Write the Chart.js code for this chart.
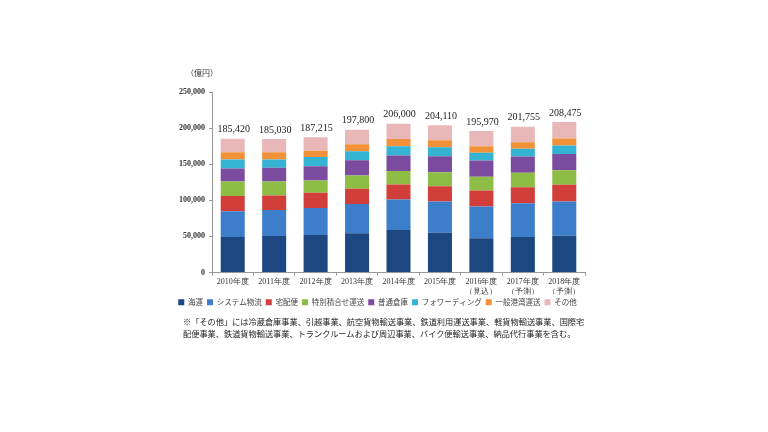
<!DOCTYPE html>
<html><head><meta charset="utf-8">
<script src="https://cdn.jsdelivr.net/npm/chart.js@4/dist/chart.umd.min.js"></script>
<style>
html,body{margin:0;padding:0;background:#fff;}
#wrap{position:relative;width:768px;height:432px;}
#unit{position:absolute;left:186px;top:67px;font:8px "Noto Sans CJK JP";color:#333;}
.note{position:absolute;left:183px;font:8.2px "Noto Sans CJK JP";color:#222;white-space:nowrap;}
</style></head>
<body><div id="wrap"><canvas id="c" width="768" height="432"></canvas>
<div id="unit">（億円）</div>
<div class="note" style="top:315px">※「その他」には冷蔵倉庫事業、引越事業、航空貨物輸送事業、鉄道利用運送事業、軽貨物輸送事業、国際宅</div>
<div class="note" style="top:327px">配便事業、鉄道貨物輸送事業、トランクルームおよび周辺事業、バイク便輸送事業、納品代行事業を含む。</div>
</div>
<script>
const categories = [['2010年度'],['2011年度'],['2012年度'],['2013年度'],['2014年度'],['2015年度'],['2016年度','（見込）'],['2017年度','（予測）'],['2018年度','（予測）']];
const totals = [185420,185030,187215,197800,206000,204110,195970,201755,208475];
const kaiun    = [49000,50500,52000,54500,59000,55000,47500,49000,51000];
const system   = [36000,36000,37500,40500,42000,43500,44000,47000,47500];
const takuhai  = [21000,20000,21000,21000,21000,21000,22000,22000,23000];
const tokuseki = [20000,19500,17000,18500,18500,19500,19000,20000,20000];
const souko    = [18000,19000,19500,21000,21500,22000,22500,22500,22500];
const forward  = [12500,11500,13000,12500,13000,12500,11000,11000,12000];
const kouwan   = [10000,10000, 8500, 9500,10000, 9500, 9000, 9000, 9500];
const sonota   = [18920,18530,18715,20300,21000,21110,20970,21255,22975];
const yTicks = [0,50000,100000,150000,200000,250000];

const series = [
 ['海運',kaiun,'#1d4781'],
 ['システム物流',system,'#3d7ecb'],
 ['宅配便',takuhai,'#d23f3b'],
 ['特別積合せ運送',tokuseki,'#8dbd45'],
 ['普通倉庫',souko,'#7a4b9f'],
 ['フォワーディング',forward,'#35b3d2'],
 ['一般港湾運送',kouwan,'#f1923a'],
 ['その他',sonota,'#e9b7b7']
];
const totalLabels = {
  id:'totalLabels',
  afterDatasetsDraw(chart){
    const ctx = chart.ctx;
    const meta = chart.getDatasetMeta(series.length-1);
    ctx.save();
    ctx.font = '10px "Liberation Serif"';
    ctx.fillStyle = '#222';
    ctx.textAlign = 'center';
    ctx.textBaseline = 'bottom';
    meta.data.forEach((bar,i)=>{
      ctx.fillText(totals[i].toLocaleString('en-US'), bar.x+1, bar.y-4);
    });
    ctx.restore();
  }
};
new Chart(document.getElementById('c'),{
  type:'bar',
  data:{labels:categories,datasets:series.map(s=>({label:s[0],data:s[1],backgroundColor:s[2],borderWidth:0,barPercentage:0.58,categoryPercentage:1}))},
  options:{
    responsive:false,animation:false,
    layout:{padding:{left:170,right:183,top:92,bottom:116}},
    plugins:{
      legend:{position:'bottom',labels:{boxWidth:6,boxHeight:6,padding:4,font:{size:7.5,family:'"Noto Sans CJK JP"'},color:'#444'}},
      tooltip:{enabled:false}
    },
    scales:{
      x:{stacked:true,
        grid:{drawOnChartArea:false,tickLength:3,color:'#999'},
        border:{color:'#999'},
        ticks:{font:{size:8,family:'"Liberation Serif"'},color:'#333',padding:2,maxRotation:0},
        afterFit(s){s.height=22;}
      },
      y:{stacked:true,min:0,max:250000,
        grid:{drawOnChartArea:false,tickLength:3,color:'#999'},
        border:{color:'#999'},
        afterBuildTicks(s){s.ticks=yTicks.map(v=>({value:v}));},
        ticks:{font:{size:8,family:'"Liberation Serif"',weight:'bold'},color:'#333',padding:4,callback:v=>v.toLocaleString('en-US')},
        afterFit(s){s.width=42;}
      }
    }
  },
  plugins:[totalLabels]
});
</script></body></html>
